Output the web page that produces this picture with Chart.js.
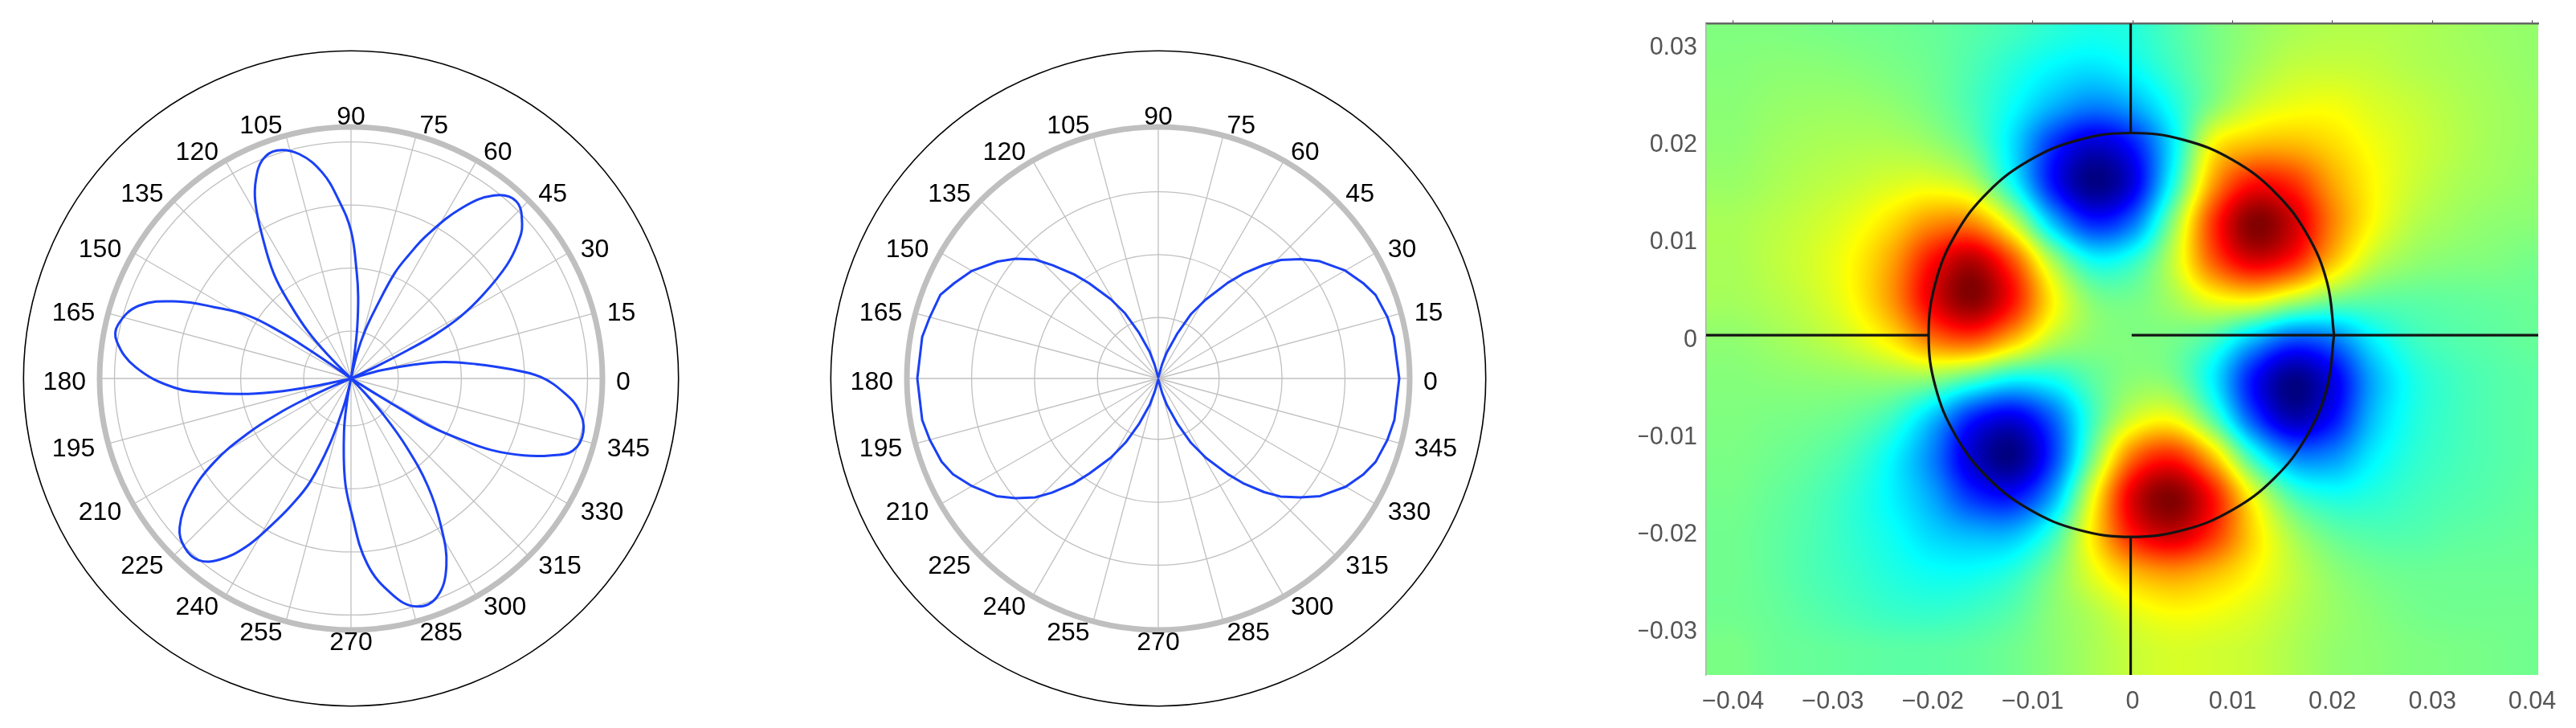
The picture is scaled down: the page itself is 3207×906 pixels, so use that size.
<!DOCTYPE html>
<html>
<head>
<meta charset="utf-8">
<title>Polar patterns and field map</title>
<script src="https://cdn.jsdelivr.net/npm/chart.js@4/dist/chart.umd.min.js"></script>
<style>
  html, body { margin: 0; padding: 0; background: #fff; }
  #page { position: relative; width: 3207px; height: 906px; overflow: hidden; }
  canvas { position: absolute; display: block; }
</style>
</head>
<body>
<div id="page">
  <canvas id="rose" width="820" height="820" style="left:27px;top:61px"></canvas>
  <canvas id="loop" width="820" height="820" style="left:1032px;top:61px"></canvas>
  <canvas id="field" width="1167" height="906" style="left:2040px;top:0"></canvas>
</div>
<script>
// polar tick labels, shared by both polar plots
const polarTicks = [0, 15, 30, 45, 60, 75, 90, 105, 120, 135, 150, 165, 180, 195, 210, 225, 240, 255, 270, 285, 300, 315, 330, 345];

// left plot: six petals, angle in degrees and radius in grid units
const roseAngles = [
  327, 328, 328.5, 329, 331, 333, 336, 339, 342, 347, 352, 356, 0.5, 3.5, 6.5, 10, 12.5, 15, 16,
  24, 25.5, 26.5, 27.5, 29.5, 32.5, 36, 39, 42, 47, 52, 57, 62, 65, 67.5, 70.5, 73.5, 76.5, 78,
  81, 82, 83, 85, 87, 90, 94, 98, 103, 108, 112, 115.5, 118.5, 122, 126.5, 129.5, 132.5, 134.5, 136,
  144, 145, 145.5, 146.5, 148.5, 152.5, 156, 161, 167, 171, 177, 183, 186, 188.5, 190.5, 192, 193,
  202, 203, 204, 205.5, 208, 211.5, 216, 221, 225.5, 230, 234, 238, 241.5, 245, 248.5, 252, 255, 256.5, 258,
  259, 260, 262.5, 266.5, 270, 275, 281, 286, 291.5, 297, 301.5, 305.5, 309, 312, 313.5, 314.5
];
const roseRadii = [
  0.02, 0.5, 1, 1.5, 2, 2.5, 3, 3.4, 3.7, 3.78, 3.65, 3.4, 3, 2.5, 2, 1.5, 1, 0.5, 0.02,
  0.02, 0.5, 1, 1.5, 2, 2.5, 3.05, 3.4, 3.65, 3.84, 3.68, 3.22, 2.58, 2.15, 1.8, 1.2, 0.8, 0.4, 0.02,
  0.02, 0.4, 0.8, 1.3, 1.7, 2.34, 2.84, 3.3, 3.65, 3.8, 3.74, 3.5, 3.18, 2.65, 2.05, 1.5, 1, 0.5, 0.02,
  0.02, 0.4, 0.8, 1.3, 1.9, 2.45, 3, 3.55, 3.79, 3.76, 3.42, 2.8, 2.2, 1.65, 1.1, 0.5, 0.02,
  0.02, 0.4, 0.7, 1.2, 1.85, 2.55, 3.15, 3.6, 3.76, 3.76, 3.55, 3.15, 2.65, 2.2, 1.75, 1.1, 0.5, 0.25, 0.02,
  0.02, 0.34, 0.85, 1.6, 2.1, 2.95, 3.5, 3.76, 3.72, 3.33, 2.72, 2.1, 1.4, 0.75, 0.3, 0.02
];
const roseRings = [0, 0.75, 1.75, 2.75, 3.75, 3.986];

// middle plot: figure of eight
const loopAngles = [
  0, 10, 15, 21, 25, 30, 36, 40, 44, 47, 51, 54, 59, 63, 67, 72, 75, 85,
  95, 105, 108, 113, 117, 121, 126, 129, 133, 136, 140, 144, 150, 155, 159, 165, 170, 180,
  190, 195, 201, 205, 210, 216, 220, 224, 227, 231, 234, 239, 243, 247, 252, 255, 265,
  275, 285, 288, 293, 297, 301, 306, 309, 313, 316, 320, 324, 330, 335, 339, 345, 350
];
const loopRadii = [
  3.83, 3.8, 3.77, 3.7, 3.59, 3.43, 3.17, 2.95, 2.71, 2.47, 2.14, 1.88, 1.46, 1.15, 0.78, 0.43, 0.23, 0.02,
  0.02, 0.23, 0.45, 0.8, 1.16, 1.47, 1.87, 2.13, 2.46, 2.72, 2.96, 3.16, 3.42, 3.58, 3.71, 3.76, 3.81, 3.83,
  3.81, 3.76, 3.69, 3.6, 3.42, 3.18, 2.96, 2.72, 2.48, 2.15, 1.87, 1.47, 1.14, 0.79, 0.44, 0.22, 0.02,
  0.02, 0.24, 0.44, 0.79, 1.15, 1.47, 1.88, 2.14, 2.47, 2.7, 2.94, 3.18, 3.44, 3.6, 3.7, 3.77, 3.81
];
const loopRings = [0, 0.967, 1.967, 2.967, 3.996];

// right plot: axis ticks
const fieldXTicks = [-0.04, -0.03, -0.02, -0.01, 0, 0.01, 0.02, 0.03, 0.04];
const fieldYTicks = [-0.03, -0.02, -0.01, 0, 0.01, 0.02, 0.03];

// right plot: field sampled every 0.004, percent of full scale (+100 dark red, -100 dark blue)
const fieldX = [-0.04, -0.036, -0.032, -0.028, -0.024, -0.02, -0.016, -0.012, -0.008, -0.004, 0, 0.004, 0.008, 0.012, 0.016, 0.02, 0.024, 0.028, 0.032, 0.036, 0.04];
const fieldY = [0.032, 0.028, 0.024, 0.02, 0.016, 0.012, 0.008, 0.004, 0, -0.004, -0.008, -0.012, -0.016, -0.02, -0.024, -0.028, -0.032];
const fieldValues = [
  [0, 0, -1, -2, -3, -5, -8, -12, -17, -20, -18, -10, -2, 4, 8, 10, 10, 9, 7, 5, 4],
  [1, 2, 2, 1, -1, -4, -10, -18, -26, -30, -24, -13, -2, 7, 13, 14, 13, 10, 8, 6, 4],
  [2, 4, 5, 5, 3, -2, -11, -24, -40, -50, -42, -21, 1, 16, 22, 23, 18, 14, 10, 7, 5],
  [3, 6, 8, 9, 9, 5, -6, -31, -66, -85, -71, -29, 25, 38, 39, 32, 23, 16, 11, 7, 5],
  [5, 8, 11, 14, 18, 20, 11, -23, -72, -99, -81, -21, 43, 73, 67, 43, 26, 15, 9, 6, 4],
  [8, 11, 15, 21, 32, 47, 48, 16, -37, -68, -53, 2, 64, 99, 85, 50, 25, 11, 6, 3, 2],
  [8, 12, 17, 26, 44, 74, 90, 60, 9, -22, -16, 13, 56, 80, 69, 37, 13, 4, 1, 0, -2],
  [7, 10, 15, 25, 46, 80, 98, 72, 27, 1, -2, 7, 21, 24, 10, -3, -7, -7, -6, -5, -4],
  [3, 6, 10, 17, 30, 52, 59, 38, 12, 2, 0, -2, -12, -38, -59, -52, -28, -14, -9, -7, -5],
  [1, 2, 3, 4, 5, 3, -10, -24, -21, -7, 2, -1, -27, -72, -98, -80, -42, -21, -13, -9, -7],
  [0, -1, -2, -5, -14, -37, -69, -80, -56, -13, 16, 22, -9, -60, -90, -74, -38, -20, -13, -9, -7],
  [-1, -3, -6, -12, -26, -50, -85, -99, -64, -2, 53, 68, 37, -16, -48, -47, -28, -17, -12, -9, -7],
  [-2, -5, -9, -16, -27, -43, -67, -73, -43, 21, 81, 99, 72, 23, -11, -21, -18, -13, -10, -8, -6],
  [-3, -6, -10, -16, -23, -33, -39, -38, -15, 29, 71, 85, 66, 33, 8, -5, -9, -9, -7, -6, -5],
  [-3, -6, -10, -14, -19, -23, -23, -17, -1, 20, 38, 45, 38, 26, 13, 3, -2, -4, -4, -4, -4],
  [-3, -5, -8, -11, -14, -15, -13, -8, 2, 10, 20, 25, 23, 18, 11, 5, 1, -2, -3, -3, -3],
  [-1, -4, -5, -6, -7, -7, -6, -3, 2, 8, 14, 17, 16, 14, 9, 4, 2, 0, -1, -2, -3]
];

// right plot: circle and the four black spokes
const circleX = [0.02016, 0.01947, 0.01744, 0.01422, 0.01002, 0.00512, -0.00013, -0.00538, -0.01028, -0.01448, -0.0177, -0.01973, -0.02042, -0.01973, -0.0177, -0.01448, -0.01028, -0.00538, -0.00013, 0.00512, 0.01002, 0.01422, 0.01744, 0.01947, 0.02016];
const circleY = [0.00052, 0.00589, 0.01089, 0.01519, 0.01848, 0.02055, 0.02126, 0.02055, 0.01848, 0.01519, 0.01089, 0.00589, 0.00052, -0.00485, -0.00985, -0.01415, -0.01744, -0.01951, -0.02022, -0.01951, -0.01744, -0.01415, -0.00985, -0.00485, 0.00052];
const spokes = [
  { x: [-0.0002, -0.0002], y: [0.02126, 0.0325] },
  { x: [-0.0002, -0.0002], y: [-0.0202, -0.0344] },
  { x: [-0.0427, -0.0204], y: [0.0005, 0.0005] },
  { x: [-0.0001, 0.0406], y: [0.0005, 0.0005] }
];

const BLUE = "#1a40f5";
const GRID = "#c0c0c0";
const FONT = '"Liberation Sans", Arial, sans-serif';

// a radar label every half degree, index 0 is 359.5 and the index runs clockwise
const degreeLabels = Array.from({ length: 720 }, (_, i) => 359.5 - i / 2);
const labelIndex = a => 719 - Math.round(a * 2);

function toRadarData(angles, radii) {
  const out = new Array(720).fill(null);
  angles.forEach((a, i) => { out[labelIndex(a)] = radii[i]; });
  return out;
}

// outer black circle and the angle labels
const polarDecor = {
  id: "polarDecor",
  afterDraw(chart, args, opts) {
    const { ctx } = chart;
    const r = chart.scales.r;
    ctx.save();
    ctx.beginPath();
    ctx.arc(r.xCenter, r.yCenter, r.getDistanceFromCenterForValue(opts.outer), 0, Math.PI * 2);
    ctx.strokeStyle = "#000";
    ctx.lineWidth = 1.6;
    ctx.stroke();
    ctx.fillStyle = "#000";
    ctx.font = "32px " + FONT;
    ctx.textBaseline = "alphabetic";
    polarTicks.forEach(a => {
      const p = r.getPointPosition(labelIndex(a), 330);
      const c = Math.cos(a * Math.PI / 180);
      const s = Math.sin(a * Math.PI / 180);
      ctx.textAlign = Math.abs(c) < 0.01 ? "center" : (c > 0 ? "left" : "right");
      ctx.fillText(String(a), p.x, p.y + 13.5 + 6 * Math.min(0, s));
    });
    ctx.restore();
  }
};

function polarChart(id, angles, radii, rings, outer, tension) {
  const top = rings[rings.length - 1];
  return new Chart(document.getElementById(id), {
    type: "radar",
    plugins: [polarDecor],
    data: {
      labels: degreeLabels,
      datasets: [{
        data: toRadarData(angles, radii),
        borderColor: BLUE,
        borderWidth: 3,
        borderJoinStyle: "round",
        fill: false,
        pointRadius: 0,
        spanGaps: true,
        tension: tension
      }]
    },
    options: {
      responsive: false,
      animation: false,
      events: [],
      layout: { padding: 96.7 },
      plugins: {
        legend: { display: false },
        tooltip: { enabled: false },
        polarDecor: { outer: outer }
      },
      scales: {
        r: {
          min: 0,
          max: top,
          startAngle: 90.5,
          afterBuildTicks(scale) { scale.ticks = rings.map(value => ({ value })); },
          ticks: { display: false },
          pointLabels: { display: false },
          grid: {
            circular: true,
            color: c => (c.tick && c.tick.value === top ? "#bfbfbf" : GRID),
            lineWidth: c => (c.tick && c.tick.value === top ? 7 : 1.3)
          },
          angleLines: {
            color: GRID,
            lineWidth: c => (degreeLabels[c.index] % 15 === 0 ? 1.3 : 0)
          }
        }
      }
    }
  });
}

polarChart("rose", roseAngles, roseRadii, roseRings, 5.192, 0.4);
polarChart("loop", loopAngles, loopRadii, loopRings, 5.205, 0);

// jet colour map, t from 0 to 1
function jet(t) {
  const ch = v => Math.round(255 * Math.max(0, Math.min(1, v)));
  return [ch(1.5 - Math.abs(4 * t - 3)), ch(1.5 - Math.abs(4 * t - 2)), ch(1.5 - Math.abs(4 * t - 1))];
}

function catmull(a, b, c, d, t) {
  return b + 0.5 * t * (c - a + t * (2 * a - 5 * b + 4 * c - d + t * (3 * (b - c) + d - a)));
}

// shades the plot area from fieldValues, pixel positions come from the chart scales
const fieldShade = {
  id: "fieldShade",
  beforeDraw(chart) {
    const { ctx, chartArea: area, scales } = chart;
    const w = Math.round(area.right - area.left);
    const h = Math.round(area.bottom - area.top);
    const img = ctx.createImageData(w, h);
    const cols = fieldX.length, rows = fieldY.length;
    const dx = fieldX[1] - fieldX[0], dy = fieldY[0] - fieldY[1];
    const clampI = (i, n) => Math.max(0, Math.min(n - 1, i));
    for (let py = 0; py < h; py++) {
      const fy = Math.max(0, Math.min(rows - 1.001, (fieldY[0] - scales.y.getValueForPixel(area.top + py + 0.5)) / dy));
      const j = Math.floor(fy), ty = fy - j;
      for (let px = 0; px < w; px++) {
        const fx = Math.max(0, Math.min(cols - 1.001, (scales.x.getValueForPixel(area.left + px + 0.5) - fieldX[0]) / dx));
        const i = Math.floor(fx), tx = fx - i;
        const col = [];
        for (let m = -1; m <= 2; m++) {
          const row = fieldValues[clampI(j + m, rows)];
          col.push(catmull(row[clampI(i - 1, cols)], row[i], row[clampI(i + 1, cols)], row[clampI(i + 2, cols)], tx));
        }
        const v = catmull(col[0], col[1], col[2], col[3], ty);
        const [r, g, b] = jet(Math.max(0, Math.min(1, (v / 100 + 1) / 2)));
        const k = (py * w + px) * 4;
        img.data[k] = r; img.data[k + 1] = g; img.data[k + 2] = b; img.data[k + 3] = 255;
      }
    }
    ctx.putImageData(img, Math.round(area.left), Math.round(area.top));
  }
};

const lineStyle = { borderColor: "#141414", borderWidth: 3.2, pointRadius: 0, showLine: true, fill: false };
const pairs = (xs, ys) => xs.map((x, i) => ({ x, y: ys[i] }));
const signedTick = v => (v === 0 ? "0" : (v < 0 ? "\u2212" : "") + Math.abs(v).toFixed(2));

new Chart(document.getElementById("field"), {
  type: "scatter",
  plugins: [fieldShade],
  data: {
    datasets: [
      { ...lineStyle, data: pairs(circleX, circleY), tension: 0.4 },
      ...spokes.map(s => ({ ...lineStyle, data: pairs(s.x, s.y) }))
    ]
  },
  options: {
    responsive: false,
    animation: false,
    events: [],
    layout: { padding: { left: 0, top: 21, right: 47, bottom: 0 } },
    plugins: { legend: { display: false }, tooltip: { enabled: false } },
    scales: {
      x: {
        type: "linear",
        min: -0.0427,
        max: 0.0406,
        afterBuildTicks(scale) { scale.ticks = fieldXTicks.map(value => ({ value })); },
        afterFit(scale) { scale.height = 66; },
        grid: { display: false, drawTicks: false },
        border: { display: false },
        ticks: { autoSkip: false, maxRotation: 0, padding: 15, color: "#555", font: { family: FONT, size: 30.5 }, callback: signedTick }
      },
      xTop: {
        type: "linear",
        position: "top",
        min: -0.0427,
        max: 0.0406,
        afterBuildTicks(scale) { scale.ticks = fieldXTicks.map(value => ({ value })); },
        afterFit(scale) { scale.height = 4; },
        grid: { drawOnChartArea: false, tickLength: 4, color: "#444", lineWidth: 1 },
        border: { color: "#666", width: 2.5 },
        ticks: { display: false }
      },
      y: {
        type: "linear",
        min: -0.0344,
        max: 0.0325,
        afterBuildTicks(scale) { scale.ticks = fieldYTicks.map(value => ({ value })); },
        afterFit(scale) { scale.width = 84; },
        grid: { display: false, drawTicks: false },
        border: { color: "#b0b0b0", width: 1.5 },
        ticks: { autoSkip: false, padding: 11, color: "#555", font: { family: FONT, size: 30.5 }, callback: signedTick }
      }
    }
  }
});
</script>
</body>
</html>
